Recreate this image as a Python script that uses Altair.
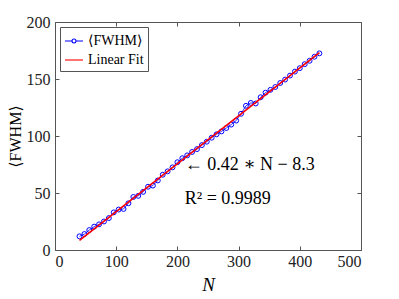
import altair as alt
import pandas as pd

N_vals = [40, 48, 56, 64, 72, 80, 88, 96, 104, 112, 120, 128, 136, 144, 152, 160,
          168, 176, 184, 192, 200, 208, 216, 224, 232, 240, 248, 256, 264, 272, 280,
          288, 296, 304, 312, 320, 328, 336, 344, 352, 360, 368, 376, 384, 392, 400,
          408, 416, 424, 432]
fwhm_vals = [12, 14, 17.5, 20.5, 22.5, 25, 28, 33, 35.5, 36, 41, 46.5, 47.5, 51, 55.5,
             56.5, 61, 66, 69, 72.5, 77, 80.5, 83, 86, 88.5, 92, 95, 98.5, 101.5, 104,
             107, 110, 113.5, 119.5, 126.5, 129, 128.5, 134, 138, 140.5, 143, 146.5,
             149.5, 153, 156.5, 159.5, 163, 166, 169.5, 172.5]
fit_N = [40, 432]
fit_vals = [8.5, 173.1]
series_names = ["⟨FWHM⟩", "Linear Fit"]
series_colors = ["#0000ff", "#ff0000"]
ann_N = [212, 212]
ann_vals = [75, 44.5]
ann_text = ["← 0.42 ∗ N − 8.3", "R² = 0.9989"]
x_ticks = [0, 100, 200, 300, 400, 500]
y_ticks = [0, 50, 100, 150, 200]

df_pts = pd.DataFrame({"N": N_vals, "v": fwhm_vals, "series": series_names[0]})
df_fit = pd.DataFrame({"N": fit_N, "v": fit_vals, "series": series_names[1]})
df_leg = pd.concat([df_pts.head(1), df_fit.head(1)], ignore_index=True)
df_ann = pd.DataFrame({"N": ann_N, "v": ann_vals, "t": ann_text})

FONT = "'Liberation Serif', 'DejaVu Serif', serif"

xs = alt.Scale(domain=[0, 500], nice=False)
ys = alt.Scale(domain=[0, 200], nice=False)

x_enc = alt.X("N:Q", scale=xs, axis=alt.Axis(
    values=x_ticks, title="N", titleFontStyle="italic", titleFontSize=19,
    titleFontWeight="normal", titlePadding=6, offset=-4, tickSize=4,
    labelPadding=3, domain=False, grid=False))
y_enc = alt.Y("v:Q", scale=ys, axis=alt.Axis(
    values=y_ticks, title="⟨FWHM⟩", titleFontSize=16, titleFontWeight="normal",
    titlePadding=3, offset=-4, tickSize=4, labelPadding=5, domain=False, grid=False))

x_top = alt.X("N:Q", scale=xs, axis=alt.Axis(
    values=x_ticks, orient="top", labels=False, title=None, offset=-4, tickSize=4,
    domain=False, grid=False))
y_right = alt.Y("v:Q", scale=ys, axis=alt.Axis(
    values=y_ticks, orient="right", labels=False, title=None, offset=-4, tickSize=4,
    domain=False, grid=False))

circ_path = ("M-1,0L-0.22,0M0.22,0L1,0M-0.22,0A0.22,0.22 0 1,0 0.22,0"
             "A0.22,0.22 0 1,0 -0.22,0")
line_path = "M-1,0L1,0"

blue_line = alt.Chart(df_pts).mark_line(color=series_colors[0], strokeWidth=0.8).encode(
    x=x_enc, y=y_enc)
blue_pts = alt.Chart(df_pts).mark_point(filled=False, size=24, strokeWidth=1,
                                         color=series_colors[0], opacity=1).encode(
    x=x_enc, y=y_enc)
legend_layer = alt.Chart(df_leg).mark_point(filled=False, opacity=0).encode(
    x=x_enc, y=y_enc,
    color=alt.Color("series:N", title=None,
                    scale=alt.Scale(domain=series_names, range=series_colors)),
    shape=alt.Shape("series:N", title=None,
                    scale=alt.Scale(domain=series_names, range=[circ_path, line_path])))
red_line = alt.Chart(df_fit).mark_line(color=series_colors[1], strokeWidth=1.6).encode(
    x=x_enc, y=y_enc)
ann = alt.Chart(df_ann).mark_text(align="left", baseline="middle", font=FONT,
                                   fontSize=18, color="black").encode(
    x=x_enc, y=y_enc, text="t:N")
frame = alt.Chart(df_fit).mark_point(opacity=0).encode(x=x_top, y=y_right)

base = alt.layer(blue_line, blue_pts, red_line, legend_layer, ann)
chart = alt.layer(base, frame).resolve_axis(x="independent", y="independent").properties(
    width=306, height=228,
    autosize=alt.AutoSizeParams(type="none"),
    padding={"left": 47, "top": 14, "right": 12, "bottom": 46},
).configure_view(stroke="#555", strokeWidth=1).configure_axis(
    labelFont=FONT, titleFont=FONT, labelFontSize=16, labelColor="#222",
    titleColor="black", tickColor="#555", tickWidth=1
).configure_legend(
    orient="top-left", offset=5, strokeColor="#555", fillColor="white",
    padding=4, labelFont=FONT, labelFontSize=14, labelColor="black",
    symbolSize=324, symbolStrokeWidth=1.1, symbolFillColor="transparent",
    symbolOpacity=1, rowPadding=2, labelOffset=4, cornerRadius=0
)

chart.save("out.html", embed_options={"renderer": "svg", "actions": False})
